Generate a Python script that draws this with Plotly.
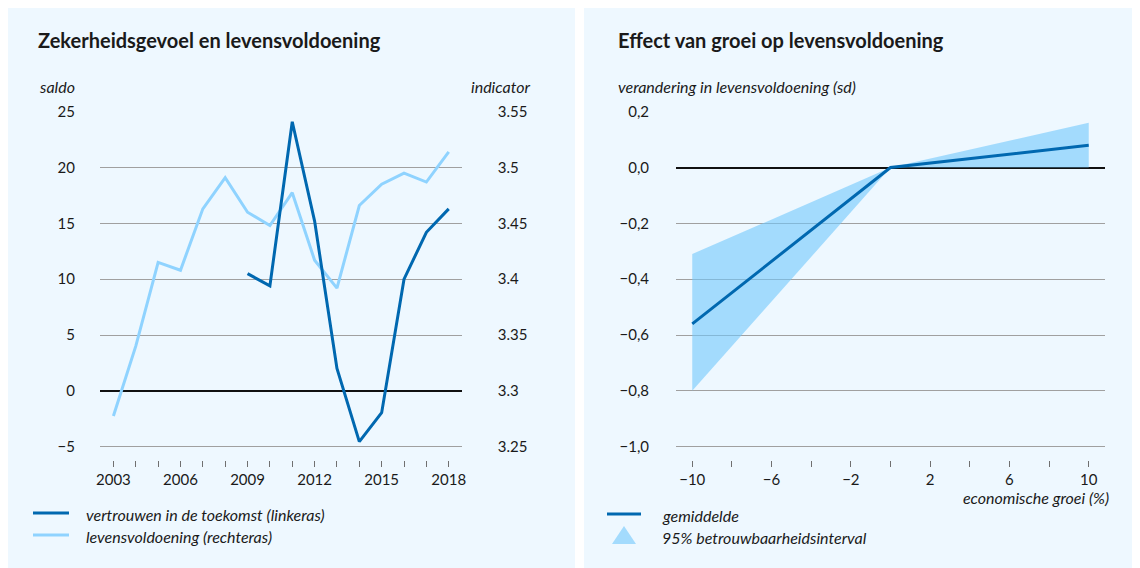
import plotly.graph_objects as go

# ---------------- data ----------------
years_trust = [2009, 2010, 2011, 2012, 2013, 2014, 2015, 2016, 2017, 2018]
trust_saldo = [10.5, 9.4, 24.1, 15.2, 2.0, -4.55, -1.95, 10.0, 14.2, 16.3]

years_life = list(range(2003, 2019))
life_indicator = [3.2775, 3.340, 3.415, 3.408, 3.463, 3.491, 3.460, 3.448,
                  3.4775, 3.417, 3.392, 3.466, 3.485, 3.495, 3.487, 3.514]

left_yticks = [-5, 0, 5, 10, 15, 20, 25]
left_yticktext = ["\u22125", "0", "5", "10", "15", "20", "25"]
right_yticks = [3.25, 3.30, 3.35, 3.40, 3.45, 3.50, 3.55]
right_yticktext = ["3.25", "3.3", "3.35", "3.4", "3.45", "3.5", "3.55"]
left_xticks = list(range(2003, 2019))
left_xticktext = [str(y) if (y - 2003) % 3 == 0 else "" for y in left_xticks]

growth = [-10, 0, 10]
effect_mean = [-0.56, 0.0, 0.08]
effect_upper = [-0.31, 0.0, 0.16]
effect_lower = [-0.80, 0.0, 0.0]
right_yticks2 = [-1.0, -0.8, -0.6, -0.4, -0.2, 0.0, 0.2]
right_yticktext2 = ["\u22121,0", "\u22120,8", "\u22120,6", "\u22120,4", "\u22120,2", "0,0", "0,2"]
right_xticks = list(range(-10, 11, 2))
right_xticktext = [("\u2212" + str(abs(v)) if v < 0 else str(v)) if (v + 10) % 4 == 0 else ""
                   for v in right_xticks]

# ---------------- styles ----------------
W, H = 1140, 568
OFF = 8  # page body margin offset
DARK = "#0068B0"
LIGHT = "#8FD3FF"
BAND = "rgba(113,200,252,0.6)"
BAND_SOLID = "#A3DBFD"
PANEL = "#EEF8FF"
GRID = "#A0A0A0"
TXT = "#1a1a1a"
FONT = "Lato"


def px(x):
    return (x - OFF) / W


def py(y):
    return 1 - (y - OFF) / H


fig = go.Figure()

# left chart traces: light on base (right) axis, dark on overlaying (left) axis -> on top
fig.add_trace(go.Scatter(x=years_life, y=life_indicator, mode="lines",
                         line=dict(color=LIGHT, width=3), xaxis="x", yaxis="y",
                         showlegend=False, hoverinfo="skip"))
fig.add_trace(go.Scatter(x=years_trust, y=trust_saldo, mode="lines",
                         line=dict(color=DARK, width=3), xaxis="x", yaxis="y2",
                         showlegend=False, hoverinfo="skip"))

# right chart traces
band_x = growth + growth[::-1]
band_y = effect_upper + effect_lower[::-1]
fig.add_trace(go.Scatter(x=band_x, y=band_y, mode="lines", fill="toself",
                         fillcolor=BAND, line=dict(width=0, color=BAND),
                         xaxis="x2", yaxis="y3", showlegend=False, hoverinfo="skip"))
fig.add_trace(go.Scatter(x=growth, y=effect_mean, mode="lines",
                         line=dict(color=DARK, width=3), xaxis="x2", yaxis="y3",
                         showlegend=False, hoverinfo="skip"))

tickfont = dict(family=FONT, size=15, color=TXT)
ydom = [py(460), py(111)]

# left ranges: saldo -5 at 446.7px, 25 at 111.7px
s_per_px = 30 / 335.0
saldo_lo = -5 - (460 - 446.7) * s_per_px
saldo_hi = 25 + (111.7 - 111) * s_per_px
ind_lo = 3.3 + saldo_lo * 0.01
ind_hi = 3.3 + saldo_hi * 0.01

e_per_px = 1.2 / 335.0
eff_lo = -1.0 - (460 - 446.7) * e_per_px
eff_hi = 0.2 + (111.7 - 111) * e_per_px

fig.update_layout(
    width=W, height=H,
    margin=dict(l=0, r=0, t=0, b=0, autoexpand=False),
    paper_bgcolor="white",
    plot_bgcolor="rgba(0,0,0,0)",
    font=dict(family=FONT, size=16, color=TXT),
    xaxis=dict(domain=[px(100), px(461.7)], range=[2002.4, 2018.58],
               tickvals=left_xticks, ticktext=left_xticktext,
               ticks="outside", ticklen=6, tickcolor="#707070", tickwidth=1,
               showgrid=False, zeroline=False, showline=False, automargin=False,
               tickfont=tickfont, anchor="y"),
    yaxis=dict(domain=ydom, range=[ind_lo, ind_hi], side="right",
               tickvals=right_yticks, ticktext=right_yticktext,
               ticks="outside", ticklen=32, tickcolor="rgba(0,0,0,0)",
               showgrid=False, zeroline=False, showline=False, automargin=False,
               tickfont=tickfont, anchor="x"),
    yaxis2=dict(range=[saldo_lo, saldo_hi], overlaying="y", side="left",
                tickvals=left_yticks, ticktext=left_yticktext,
                ticks="outside", ticklen=21, tickcolor="rgba(0,0,0,0)",
                showgrid=True, gridcolor=GRID, gridwidth=1,
                zeroline=True, zerolinecolor="#111111", zerolinewidth=2,
                showline=False, automargin=False, tickfont=tickfont, anchor="x"),
    xaxis2=dict(domain=[px(676), px(1105)], range=[-10.82, 10.82],
                tickvals=right_xticks, ticktext=right_xticktext,
                ticks="outside", ticklen=6, tickcolor="#707070", tickwidth=1,
                showgrid=False, zeroline=False, showline=False, automargin=False,
                tickfont=tickfont, anchor="y3"),
    yaxis3=dict(domain=ydom, range=[eff_lo, eff_hi],
                tickvals=right_yticks2, ticktext=right_yticktext2,
                ticks="outside", ticklen=23, tickcolor="rgba(0,0,0,0)",
                showgrid=True, gridcolor=GRID, gridwidth=1,
                zeroline=True, zerolinecolor="#111111", zerolinewidth=2,
                showline=False, automargin=False, tickfont=tickfont, anchor="x2"),
)

shapes = [
    dict(type="rect", xref="paper", yref="paper", x0=0, x1=px(575), y0=1, y1=0,
         fillcolor=PANEL, line=dict(width=0), layer="below"),
    dict(type="rect", xref="paper", yref="paper", x0=px(584), x1=1, y0=1, y1=0,
         fillcolor=PANEL, line=dict(width=0), layer="below"),
    # legend samples
    dict(type="line", xref="paper", yref="paper", x0=px(33), x1=px(69), y0=py(513), y1=py(513),
         line=dict(color=DARK, width=3)),
    dict(type="line", xref="paper", yref="paper", x0=px(33), x1=px(69), y0=py(535), y1=py(535),
         line=dict(color=LIGHT, width=3)),
    dict(type="line", xref="paper", yref="paper", x0=px(607), x1=px(641), y0=py(514), y1=py(514),
         line=dict(color=DARK, width=3)),
    dict(type="path", xref="paper", yref="paper",
         path=f"M {px(612)} {py(544)} L {px(624)} {py(526)} L {px(636)} {py(544)} Z",
         fillcolor=BAND_SOLID, line=dict(width=0)),
]
fig.update_layout(shapes=shapes)

ann = []


def add_text(text, x, y, xanchor="left", size=16, bold=False, italic=False):
    t = text
    if italic:
        t = f"<i>{t}</i>"
    if bold:
        t = f"<b>{t}</b>"
    ann.append(dict(text=t, x=px(x), y=py(y), xref="paper", yref="paper",
                    xanchor=xanchor, yanchor="middle", showarrow=False,
                    font=dict(family=FONT, size=size, color=TXT)))


add_text("Zekerheidsgevoel en levensvoldoening", 36, 40, size=20, bold=True)
add_text("Effect van groei op levensvoldoening", 616, 40, size=20, bold=True)
add_text("saldo", 37, 86, italic=True)
add_text("indicator", 532, 86, xanchor="right", italic=True)
add_text("verandering in levensvoldoening (sd)", 616, 86, italic=True)
add_text("economische groei (%)", 1111, 497, xanchor="right", italic=True)
add_text("vertrouwen in de toekomst (linkeras)", 84, 514, italic=True)
add_text("levensvoldoening (rechteras)", 84, 536, italic=True)
add_text("gemiddelde", 660, 515, italic=True)
add_text("95% betrouwbaarheidsinterval", 660, 537, italic=True)
fig.update_layout(annotations=ann)

fig.write_html("out.html")
